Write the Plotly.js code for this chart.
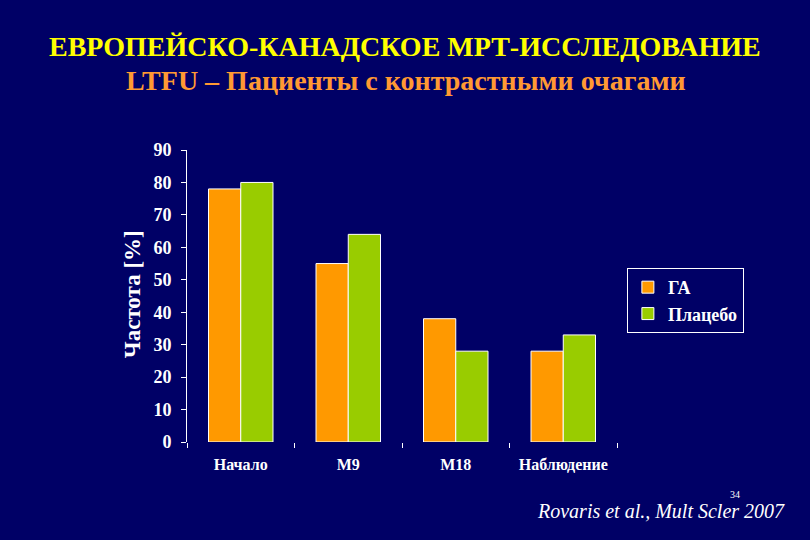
<!DOCTYPE html>
<html>
<head>
<meta charset="utf-8">
<script src="https://cdn.plot.ly/plotly-3.0.1.min.js"></script>
<style>
html,body{margin:0;padding:0;background:#000066;}
#chart{width:810px;height:540px;}
</style>
</head>
<body>
<div id="chart"></div>
<script>
const categories = ["Начало", "M9", "M18", "Наблюдение"];
const seriesNames = ["ГА", "Плацебо"];
const gaValues = [78, 55, 38, 28];
const placeboValues = [80, 64, 28, 33];
const yTicks = [0, 10, 20, 30, 40, 50, 60, 70, 80, 90];

const serif = "Times New Roman, Liberation Serif, DejaVu Serif, serif";

const traces = [
  {
    type: "bar", name: seriesNames[0], x: categories, y: gaValues,
    marker: {color: "#FF9900", line: {color: "#FFFFFF", width: 1}}
  },
  {
    type: "bar", name: seriesNames[1], x: categories, y: placeboValues,
    marker: {color: "#99CC00", line: {color: "#FFFFFF", width: 1}}
  }
];

const layout = {
  width: 810, height: 540,
  paper_bgcolor: "#000066", plot_bgcolor: "#000066",
  margin: {l: 187, r: 193, t: 150, b: 98},
  barmode: "group", bargap: 0.4, bargroupgap: 0,
  showlegend: true,
  font: {family: serif, color: "#FFFFFF"},
  legend: {
    x: 1.023, y: 0.596, xanchor: "left", yanchor: "top",
    bgcolor: "#000066", bordercolor: "#FFFFFF", borderwidth: 1,
    font: {family: serif, size: 18, color: "#FFFFFF", weight: "bold"},
    tracegroupgap: 0, itemwidth: 30
  },
  xaxis: {
    type: "category", showgrid: false, zeroline: false, showline: false,
    ticks: "outside", tickson: "boundaries", ticklen: 5, tickcolor: "#FFFFFF", tickwidth: 1,
    ticklabelstandoff: 11,
    tickfont: {family: serif, size: 16, color: "#FFFFFF", weight: "bold"}
  },
  yaxis: {
    range: [0, 90], tickvals: yTicks, showgrid: false, zeroline: false,
    showline: true, linecolor: "#FFFFFF", linewidth: 1,
    ticks: "outside", ticklen: 5, tickcolor: "#FFFFFF",
    ticklabelstandoff: 6,
    tickfont: {family: serif, size: 18, color: "#FFFFFF", weight: "bold"}
  },
  annotations: [
    {
      text: "ЕВРОПЕЙСКО-КАНАДСКОЕ МРТ-ИССЛЕДОВАНИЕ",
      xref: "paper", yref: "paper", x: 0.507, y: 1.356, xanchor: "center", yanchor: "middle",
      showarrow: false, font: {family: serif, size: 28, color: "#FFFF00", weight: "bold"}
    },
    {
      text: "LTFU – Пациенты с контрастными очагами",
      xref: "paper", yref: "paper", x: 0.509, y: 1.238, xanchor: "center", yanchor: "middle",
      showarrow: false, font: {family: serif, size: 28, color: "#FF9933", weight: "bold"}
    },
    {
      text: "Частота [%]",
      xref: "paper", yref: "paper", x: -0.128, y: 0.506, xanchor: "center", yanchor: "middle",
      textangle: -90, showarrow: false,
      font: {family: serif, size: 23, color: "#FFFFFF", weight: "bold"}
    },
    {
      text: "<i>Rovaris et al., Mult Scler 2007</i>",
      xref: "paper", yref: "paper", x: 1.395, y: -0.236, xanchor: "right", yanchor: "middle",
      showarrow: false, font: {family: serif, size: 20, color: "#FFFFFF"}
    },
    {
      text: "34",
      xref: "paper", yref: "paper", x: 1.275, y: -0.18, xanchor: "center", yanchor: "middle",
      showarrow: false, font: {family: serif, size: 10, color: "#FFFFFF"}
    }
  ]
};

Plotly.newPlot("chart", traces, layout, {displayModeBar: false, staticPlot: true});
</script>
</body>
</html>
